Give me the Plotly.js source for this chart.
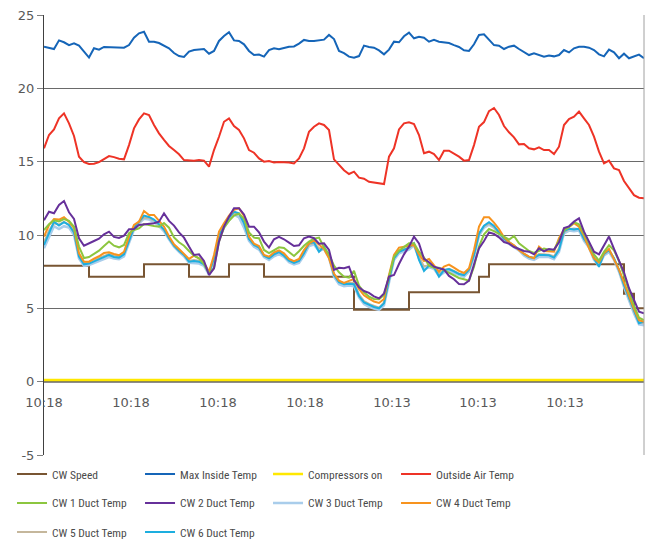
<!DOCTYPE html>
<html><head><meta charset="utf-8">
<script src="https://cdn.plot.ly/plotly-3.0.1.min.js"></script>
<style>html,body{margin:0;padding:0;background:#fff}#chart{width:654px;height:541px}</style>
</head><body><div id="chart"></div>
<script>
// sample index (time order), 121 samples
const sampleIndex = [];
for (let i = 0; i <= 120; i++) sampleIndex.push(i);

const tickPositions = [0, 17.4, 34.8, 52.2, 69.6, 86.8, 104.2];
const tickLabels = ['10:18','10:18','10:18','10:18','10:13','10:13','10:13'];
const yTickValues = [-5, 0, 5, 10, 15, 20, 25];
const yTickLabels = ['-5', '0', '5', '10', '15', '20', '25'];

const cwSpeed = [
7.9,7.9,7.9,7.9,7.9,7.9,7.9,7.9,7.9,
7.15,7.15,7.15,7.15,7.15,7.15,7.15,7.15,7.15,7.15,7.15,
8.0,8.0,8.0,8.0,8.0,8.0,8.0,8.0,8.0,
7.15,7.15,7.15,7.15,7.15,7.15,7.15,7.15,
8.0,8.0,8.0,8.0,8.0,8.0,8.0,
7.15,7.15,7.15,7.15,7.15,7.15,7.15,7.15,7.15,7.15,7.15,7.15,7.15,7.15,7.15,7.15,7.15,7.15,
4.9,4.9,4.9,4.9,4.9,4.9,4.9,4.9,4.9,4.9,4.9,
6.1,6.1,6.1,6.1,6.1,6.1,6.1,6.1,6.1,6.1,6.1,6.1,6.1,6.1,
7.15,7.15,
8.0,8.0,8.0,8.0,8.0,8.0,8.0,8.0,8.0,8.0,8.0,8.0,8.0,8.0,8.0,8.0,8.0,8.0,8.0,8.0,8.0,8.0,8.0,8.0,8.0,8.0,8.0,
6.0,6.0,
5.0,5.0,5.0];

const maxInside = [
22.84,22.77,22.68,23.27,23.14,22.95,23.07,22.91,22.5,22.1,
22.73,22.64,22.82,22.8,22.77,22.77,22.77,22.95,23.45,23.75,
23.86,23.18,23.18,23.09,22.91,22.73,22.41,22.2,22.14,22.5,
22.61,22.66,22.68,22.36,22.55,23.23,23.57,23.82,23.27,23.23,
23.0,22.55,22.27,22.3,22.16,22.61,22.73,22.66,22.77,22.84,
22.86,23.05,23.3,23.23,23.23,23.3,23.32,23.64,23.36,22.55,
22.4,
22.16,22.09,22.2,22.91,22.82,22.77,22.59,22.32,22.64,23.18,
23.14,23.55,23.8,23.41,23.52,23.45,23.18,23.3,23.18,23.11,
23.09,22.95,22.82,22.59,22.55,23.0,23.64,23.68,23.3,22.95,
22.91,22.68,22.84,22.91,22.68,22.5,22.27,22.39,22.27,22.16,
22.23,22.18,22.27,22.61,22.45,22.73,22.84,22.84,22.77,22.61,
22.32,22.18,22.64,22.45,22.05,22.36,22.05,22.18,22.3,22.05];

const compressorsOn = [
0.12,0.12,0.12,0.12,0.12,0.12,0.12,0.12,0.12,0.12,0.12,0.12,0.12,0.12,0.12,0.12,0.12,0.12,0.12,0.12,
0.12,0.12,0.12,0.12,0.12,0.12,0.12,0.12,0.12,0.12,0.12,0.12,0.12,0.12,0.12,0.12,0.12,0.12,0.12,0.12,
0.12,0.12,0.12,0.12,0.12,0.12,0.12,0.12,0.12,0.12,0.12,0.12,0.12,0.12,0.12,0.12,0.12,0.12,0.12,0.12,
0.12,0.12,0.12,0.12,0.12,0.12,0.12,0.12,0.12,0.12,0.12,0.12,0.12,0.12,0.12,0.12,0.12,0.12,0.12,0.12,
0.12,0.12,0.12,0.12,0.12,0.12,0.12,0.12,0.12,0.12,0.12,0.12,0.12,0.12,0.12,0.12,0.12,0.12,0.12,0.12,
0.12,0.12,0.12,0.12,0.12,0.12,0.12,0.12,0.12,0.12,0.12,0.12,0.12,0.12,0.12,0.12,0.12,0.12,0.12,0.12,
0.12];

const outsideAir = [
15.91,16.82,17.2,17.95,18.29,17.61,16.75,15.34,14.97,14.84,
14.86,14.97,15.18,15.38,15.31,15.2,15.16,16.13,17.27,17.88,
18.29,18.18,17.5,16.93,16.48,16.07,15.79,15.5,15.11,15.07,
15.07,15.11,15.07,14.66,15.79,16.7,17.72,17.95,17.43,17.16,
16.59,15.79,15.61,15.22,15.0,15.04,14.95,14.97,14.97,14.95,
14.88,15.22,15.91,17.04,17.38,17.61,17.5,17.16,15.16,14.77,
14.42,
14.16,14.32,13.91,13.84,13.63,13.56,13.54,13.47,15.34,15.91,
17.2,17.61,17.68,17.57,16.82,15.57,15.68,15.52,15.11,15.75,
15.75,15.57,15.34,15.07,15.11,16.13,17.38,17.7,18.45,18.66,
18.18,17.43,17.0,16.66,16.18,16.2,15.91,15.84,15.97,15.79,
15.79,15.52,16.02,17.5,17.91,18.07,18.41,17.95,17.5,16.7,
15.68,14.88,15.07,14.54,14.43,13.68,13.18,12.72,12.54,12.5];

const cw1Duct = [
10.34,10.73,11.0,10.93,11.09,10.96,10.57,9.21,8.43,8.5,
8.71,8.93,9.25,9.55,9.27,9.16,9.32,10.12,10.34,10.46,
10.75,10.71,10.62,10.57,10.82,10.5,9.84,9.5,9.27,8.91,
8.59,8.41,8.02,7.39,7.73,9.55,10.5,10.96,11.32,11.46,
11.1,
10.18,9.82,9.78,8.98,8.77,8.96,9.16,9.12,8.82,8.57,
8.89,9.27,9.55,9.75,9.82,9.16,8.68,7.91,7.46,7.16,
7.09,7.55,6.55,6.09,5.8,5.64,5.62,5.91,7.16,8.52,
8.93,9.16,9.43,9.43,8.86,8.46,7.91,7.77,7.77,
7.6,
7.43,7.27,7.07,6.98,6.89,7.84,9.21,10.05,10.41,10.27,
10.05,9.89,9.68,9.93,9.43,9.14,8.91,8.77,8.93,9.07,
9.0,8.98,9.62,10.32,10.55,10.87,10.73,10.14,9.46,8.68,
8.25,8.86,9.3,8.96,8.23,7.23,6.14,5.18,4.36,4.2];

const cw2Duct = [
11.0,11.59,11.48,12.05,12.32,11.55,11.09,9.78,9.27,9.41,
9.59,9.75,10.05,10.23,9.87,9.8,9.96,10.39,10.41,10.68,
10.73,10.77,10.8,10.91,11.48,10.96,10.64,10.18,9.82,9.21,
8.64,8.68,8.23,7.27,7.73,9.55,10.57,11.25,11.82,11.82,
11.4,
10.57,10.57,10.18,9.55,9.14,9.71,9.87,9.71,9.48,9.25,
9.3,9.78,9.89,9.78,9.41,9.43,8.98,7.62,7.77,7.73,
7.84,6.93,6.43,6.18,6.05,5.82,5.68,6.02,7.16,7.27,
8.02,8.68,9.21,9.89,9.43,8.37,8.14,7.84,7.73,
7.65,
7.21,6.98,6.66,6.64,6.89,7.96,9.09,9.59,10.18,10.07,
9.84,9.52,9.41,9.18,9.07,8.91,8.86,8.68,9.09,8.89,
9.05,9.0,9.5,10.48,10.59,10.91,11.14,10.23,9.55,8.86,
8.68,9.32,9.89,9.05,8.3,7.46,6.37,5.5,4.77,4.66];

const cw3Duct = [
9.1,9.9,10.6,10.4,10.6,10.5,10.0,8.4,7.9,7.95,
8.1,8.25,8.4,8.5,8.4,8.35,8.55,9.5,10.35,10.8,
11.1,11.05,10.9,10.6,10.25,9.7,9.2,8.85,8.55,8.1,
8.1,8.05,7.9,7.3,8.2,9.8,10.5,11.0,11.4,11.2,
10.5,
9.6,9.2,9.0,8.5,8.3,8.55,8.7,8.5,8.15,8.0,
8.1,8.6,9.25,9.35,8.9,9.05,8.45,7.15,6.65,6.5,
6.55,6.5,5.75,5.3,5.1,4.98,4.9,5.2,6.8,8.3,
8.75,8.85,9.0,9.3,8.4,7.65,7.8,7.7,7.2,
7.45,
7.55,7.4,7.25,7.15,7.5,8.5,9.95,10.5,10.7,10.5,
10.05,9.65,9.4,9.2,8.95,8.6,8.4,8.3,8.5,8.5,
8.5,8.35,8.85,10.1,10.3,10.25,10.3,9.6,9.15,8.3,
7.9,8.6,8.85,8.3,7.5,6.45,5.55,4.65,3.9,3.85];

const cw4Duct = [
9.89,10.68,11.09,11.05,11.21,10.91,10.46,8.75,8.18,8.18,
8.39,8.55,8.77,8.82,8.71,8.62,8.86,9.89,10.68,10.91,
11.64,11.37,11.37,10.96,10.57,9.91,9.37,9.05,8.71,8.37,
8.59,8.41,8.12,7.5,8.64,10.23,10.8,11.32,11.71,11.82,
11.3,
9.89,9.41,9.25,8.64,8.52,8.82,8.96,8.75,8.37,8.21,
8.37,8.98,9.43,9.64,9.32,9.05,8.41,7.37,6.89,6.73,
6.87,7.0,6.32,5.89,5.66,5.46,5.37,5.64,7.27,8.64,
9.14,9.21,9.23,9.32,8.68,8.23,8.37,7.91,7.5,
7.85,
7.98,7.77,7.55,7.41,7.73,8.98,10.57,11.21,11.21,10.84,
10.41,9.84,9.52,9.3,8.96,8.73,8.52,8.41,9.21,8.91,
8.86,8.86,9.78,10.37,10.53,10.8,10.57,9.96,9.09,8.41,
8.14,8.75,9.05,8.37,7.64,6.77,5.86,4.96,4.2,4.09];

const cw5Duct = [
9.5,10.3,10.8,10.7,10.9,10.7,10.2,8.6,8.1,8.1,
8.3,8.45,8.6,8.7,8.6,8.55,8.75,9.7,10.5,10.85,
11.2,11.15,11.0,10.7,10.35,9.8,9.3,8.95,8.65,8.25,
8.3,8.25,8.05,7.4,8.4,9.9,10.6,11.1,11.5,11.4,
10.9,
9.8,9.35,9.15,8.6,8.45,8.7,8.85,8.65,8.3,8.15,
8.3,8.8,9.35,9.45,9.1,9.1,8.55,7.3,6.85,6.7,
6.75,6.75,5.95,5.5,5.3,5.15,5.05,5.4,7.0,8.45,
8.9,9.0,9.15,9.35,8.5,7.85,7.95,7.8,7.35,
7.6,
7.7,7.55,7.38,7.3,7.6,8.7,10.1,10.6,10.8,10.55,
10.15,9.75,9.5,9.28,9.0,8.7,8.5,8.45,8.7,8.68,
8.65,8.55,9.1,10.2,10.4,10.45,10.4,9.75,9.2,8.45,
8.0,8.7,8.95,8.4,7.6,6.6,5.7,4.8,4.05,4.0];

const cw6Duct = [
9.32,10.18,10.91,10.64,10.87,10.68,10.18,8.52,8.0,8.05,
8.21,8.34,8.5,8.64,8.5,8.46,8.68,9.66,10.5,10.91,
11.32,11.23,11.05,10.73,10.37,9.78,9.28,8.93,8.64,8.18,
8.23,8.18,8.0,7.39,8.41,10.0,10.64,11.18,11.59,11.48,
10.8,
9.73,9.32,9.14,8.59,8.41,8.68,8.84,8.59,8.25,8.09,
8.23,8.75,9.43,9.5,8.86,9.21,8.59,7.27,6.78,6.64,
6.68,6.64,5.84,5.41,5.23,5.09,5.0,5.34,6.93,8.41,
8.86,8.98,9.14,9.43,8.3,7.55,7.91,7.82,7.16,
7.6,
7.68,7.52,7.34,7.27,7.64,8.64,10.09,10.64,10.87,10.62,
10.16,9.75,9.52,9.3,9.03,8.71,8.5,8.43,8.64,8.64,
8.62,8.46,8.98,10.27,10.43,10.37,10.43,9.73,9.28,8.41,
7.84,8.71,8.98,8.41,7.62,6.59,5.68,4.77,3.98,4.09];

function tr(name, y, color, legend, extra) {
  return Object.assign({
    type: 'scatter', mode: 'lines', name: name, x: sampleIndex, y: y,
    line: {color: color, width: 2}, legend: legend, hoverinfo: 'skip'
  }, extra || {});
}

const traces = [
  tr('CW Speed', cwSpeed, '#785532', 'legend', {line: {color: '#785532', width: 2, shape: 'hv'}}),
  tr('Max Inside Temp', maxInside, '#1565B8', 'legend'),
  tr('Compressors on', compressorsOn, '#FFE800', 'legend', {line: {color: '#FFE800', width: 2.5}}),
  tr('Outside Air Temp', outsideAir, '#EE3326', 'legend'),
  tr('CW 3 Duct Temp', cw3Duct, '#A9CDEB', 'legend2', {line: {color: '#A9CDEB', width: 2.5}}),
  tr('CW 5 Duct Temp', cw5Duct, '#C5B79C', 'legend3'),
  tr('CW 6 Duct Temp', cw6Duct, '#1DAEDF', 'legend3'),
  tr('CW 4 Duct Temp', cw4Duct, '#F7931E', 'legend2'),
  tr('CW 1 Duct Temp', cw1Duct, '#8CC63F', 'legend2'),
  tr('CW 2 Duct Temp', cw2Duct, '#66309A', 'legend2')
];
// legend order within rows
traces[8].legendrank = 1; traces[9].legendrank = 2; traces[4].legendrank = 3; traces[7].legendrank = 4;
traces[5].legendrank = 1; traces[6].legendrank = 2;

const legendFont = {family: '"Roboto Condensed", "DejaVu Sans Condensed", sans-serif', size: 11.5, color: '#4a4a4a'};
function leg(y) {
  return {orientation: 'h', x: -0.0533, xanchor: 'left', y: y, yanchor: 'middle',
          font: legendFont, entrywidth: 83, bgcolor: 'rgba(0,0,0,0)', traceorder: 'normal'};
}

const layout = {
  width: 654, height: 541,
  margin: {l: 44, r: 10, t: 15, b: 86, autoexpand: false},
  paper_bgcolor: '#ffffff', plot_bgcolor: '#ffffff',
  showlegend: true,
  legend: leg(-0.0432),
  legend2: leg(-0.109),
  legend3: leg(-0.175),
  xaxis: {
    range: [0, 120], anchor: 'free', position: 5/30,
    tickvals: tickPositions, ticktext: tickLabels,
    showgrid: false, zeroline: false, showline: true, linecolor: '#8c8c8c', linewidth: 1.5,
    ticks: '', ticklabelstandoff: 8,
    tickfont: {family: '"DejaVu Sans", sans-serif', size: 13, color: '#595959'}
  },
  yaxis: {
    range: [-5, 25], tickvals: yTickValues, ticktext: yTickLabels,
    showgrid: true, gridcolor: '#6a6a6a', gridwidth: 1, zeroline: false,
    showline: true, linecolor: '#404040', linewidth: 1,
    ticks: 'outside', ticklen: 6, tickcolor: '#7f7f7f',
    tickfont: {family: '"DejaVu Sans", sans-serif', size: 13, color: '#595959'}
  },
  shapes: [
    {type: 'line', xref: 'paper', yref: 'paper', x0: 1, x1: 1, y0: 0, y1: 1, line: {color: '#a0a0a0', width: 1}}
  ],
  hovermode: false
};

Plotly.newPlot('chart', traces, layout, {displayModeBar: false, staticPlot: true});
</script>
</body></html>
